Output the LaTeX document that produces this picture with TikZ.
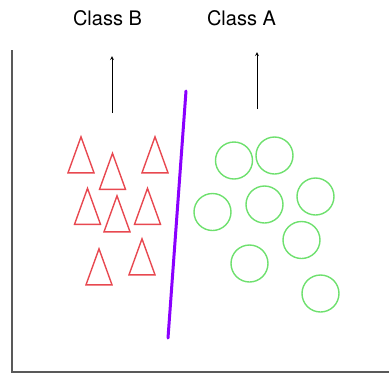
\documentclass[tikz,border=0pt]{standalone}
\usepackage{fontspec}
\setmainfont{TeX Gyre Heros}
\usetikzlibrary{shapes.geometric}
\definecolor{clsred}{RGB}{232,72,80}
\definecolor{clsgreen}{RGB}{110,224,110}
\definecolor{sepviolet}{RGB}{138,0,255}
\tikzset{
  classB/.style={draw=clsred,line width=1.4bp,isosceles triangle,isosceles triangle stretches,
    shape border rotate=90,minimum width=26bp,minimum height=36bp,inner sep=0pt,anchor=apex},
  classA/.style={draw=clsgreen,line width=1.4bp,circle,minimum size=37bp,inner sep=0pt},
  label/.style={font=\fontsize{20bp}{24bp}\selectfont}
}

\begin{document}
\begin{tikzpicture}[x=1bp,y=-1bp]
 \useasboundingbox (0,0) rectangle (389,374);
 % axes
 \coordinate (ytop) at (12,50);
 \coordinate (orig) at (12,372);
 \coordinate (xend) at (389,372);
 \draw[line width=1.3bp,black!65] (ytop) -- (orig) -- (xend);
 % class titles with their arrows
 \node[label] (lblB) at (107.5,18) {Class B};
 \node[label] (lblA) at (241.5,18) {Class A};
 \coordinate (tailB) at (112,113);
 \coordinate (tipB) at (112,56);
 \coordinate (tailA) at (257,109);
 \coordinate (tipA) at (257,52);
 \path[-stealth,line width=0.8bp]
   (tailB) edge (tipB)
   (tailA) edge (tipA);
 % triangles, placed by their apex
 \node[classB] (b1) at (81,135) {};
 \node[classB] (b2) at (112.5,151.5) {};
 \node[classB] (b3) at (155,135) {};
 \node[classB] (b4) at (87.5,186.5) {};
 \node[classB] (b5) at (117,194) {};
 \node[classB] (b6) at (147.5,186.5) {};
 \node[classB] (b7) at (99,247) {};
 \node[classB] (b8) at (142,237) {};
 % circles
 \node[classA] (a1) at (234,160.5) {};
 \node[classA] (a2) at (274.5,155.5) {};
 \node[classA] (a3) at (212.5,212) {};
 \node[classA] (a4) at (264.5,204.5) {};
 \node[classA] (a5) at (315.5,196.5) {};
 \node[classA] (a6) at (301.5,240) {};
 \node[classA] (a7) at (249.5,263.5) {};
 \node[classA] (a8) at (320.5,293.5) {};
 % separating line
 \coordinate (sepT) at (186,91);
 \coordinate (sepB) at (168,338);
 \draw[sepviolet,line width=3bp,line cap=round] (sepT) -- (sepB);
\end{tikzpicture}
\end{document}
